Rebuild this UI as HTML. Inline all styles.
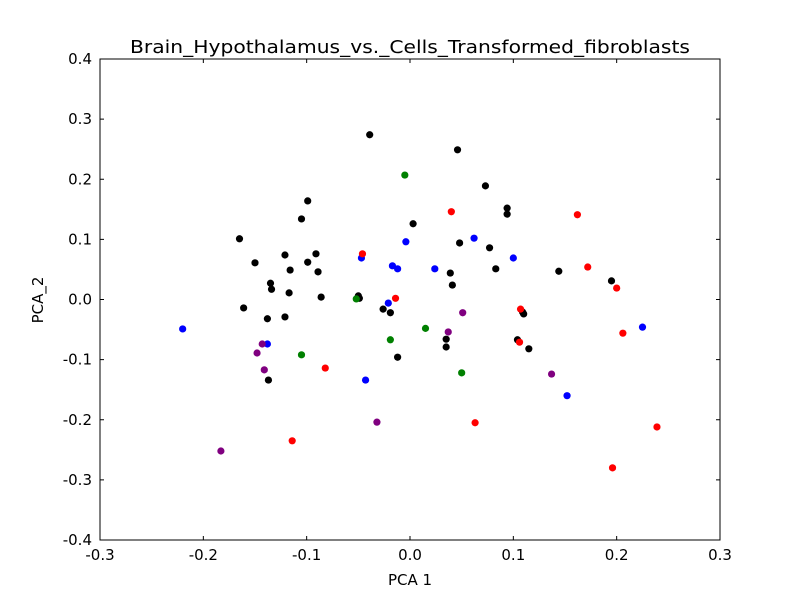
<!DOCTYPE html>
<html><head><meta charset="utf-8"><style>
body{margin:0;background:#fff}
svg{display:block;font-family:"DejaVu Sans","Liberation Sans",sans-serif}
</style></head><body>
<svg id="chart" width="800" height="600"></svg>
<script>
const xTicks=[-0.3,-0.2,-0.1,0.0,0.1,0.2,0.3];
const yTicks=[-0.4,-0.3,-0.2,-0.1,0.0,0.1,0.2,0.3,0.4];
const blackX=[-0.165,-0.150,-0.161,-0.138,-0.134,-0.135,-0.121,-0.116,-0.117,-0.121,-0.137,-0.105,-0.099,-0.099,-0.091,-0.089,-0.086,-0.050,-0.049,-0.039,-0.026,-0.019,-0.012,0.003,0.035,0.035,0.039,0.041,0.046,0.048,0.073,0.077,0.083,0.094,0.094,0.104,0.109,0.110,0.115,0.144,0.195];
const blackY=[0.101,0.061,-0.014,-0.032,0.017,0.027,0.074,0.049,0.011,-0.029,-0.134,0.134,0.164,0.062,0.076,0.046,0.004,0.006,0.002,0.274,-0.016,-0.022,-0.096,0.126,-0.066,-0.079,0.044,0.024,0.249,0.094,0.189,0.086,0.051,0.152,0.142,-0.067,-0.021,-0.024,-0.082,0.047,0.031];
const blueX=[-0.220,-0.138,-0.047,-0.043,-0.021,-0.017,-0.012,-0.004,0.024,0.062,0.100,0.152,0.225];
const blueY=[-0.049,-0.074,0.069,-0.134,-0.006,0.056,0.051,0.096,0.051,0.102,0.069,-0.160,-0.046];
const redX=[-0.046,-0.014,0.040,0.063,0.162,0.172,0.200,0.206,0.196,0.239,0.106,0.107,-0.082,-0.114];
const redY=[0.076,0.002,0.146,-0.205,0.141,0.054,0.019,-0.056,-0.280,-0.212,-0.071,-0.016,-0.114,-0.235];
const greenX=[-0.052,-0.005,-0.019,0.015,0.050,-0.105];
const greenY=[0.001,0.207,-0.067,-0.048,-0.122,-0.092];
const purpleX=[-0.183,-0.148,-0.143,-0.141,-0.032,0.037,0.051,0.137];
const purpleY=[-0.252,-0.089,-0.074,-0.117,-0.204,-0.054,-0.022,-0.124];

const L=100,R=720,T=59,B=540;
const sx=v=>L+(v+0.3)/0.6*(R-L);
const sy=v=>B-(v+0.4)/0.8*(B-T);
const svg=document.getElementById('chart');
const NS='http://www.w3.org/2000/svg';
function mk(tag,attrs,txt){const e=document.createElementNS(NS,tag);for(const k in attrs)e.setAttribute(k,attrs[k]);if(txt!==undefined)e.textContent=txt;svg.appendChild(e);return e;}

const frame=mk('rect',{x:L,y:T,width:R-L,height:B-T,fill:'#fff',stroke:'#000','stroke-width':1});



xTicks.forEach(t=>{
  const x=sx(t);
  const a=mk('line',{x1:x,x2:x,y1:B,y2:B-4,stroke:'#000'});
  
  
  const b=mk('line',{x1:x,x2:x,y1:T,y2:T+4,stroke:'#000'});
  
  
  const lb=mk('text',{x:x,y:B+20,'text-anchor':'middle','font-size':15},t.toFixed(1));
  
  
});
yTicks.forEach(t=>{
  const y=sy(t);
  const a=mk('line',{x1:L,x2:L+4,y1:y,y2:y,stroke:'#000'});
  
  
  const b=mk('line',{x1:R,x2:R-4,y1:y,y2:y,stroke:'#000'});
  
  
  const lb=mk('text',{x:L-8,y:y+5,'text-anchor':'end','font-size':15},t.toFixed(1));
  
  
});

const series=[[blackX,blackY,'#000','black'],[blueX,blueY,'#0000ff','blue'],[redX,redY,'#ff0000','red'],[greenX,greenY,'#008000','green'],[purpleX,purpleY,'#800080','purple']];
series.forEach(([xs,ys,c,n])=>{
  xs.forEach((v,i)=>{
    const p=mk('circle',{cx:sx(v),cy:sy(ys[i]),r:3.6,fill:c});
    
    
  });
});

const title=mk('text',{x:410,y:53,'text-anchor':'middle','font-size':18,textLength:560,lengthAdjust:'spacingAndGlyphs'},'Brain_Hypothalamus_vs._Cells_Transformed_fibroblasts');


const xt=mk('text',{x:410,y:585,'text-anchor':'middle','font-size':15},'PCA 1');


const yt=mk('text',{x:43,y:300,'text-anchor':'middle','font-size':15,transform:'rotate(-90 43 300)'},'PCA_2');


</script>
</body></html>
